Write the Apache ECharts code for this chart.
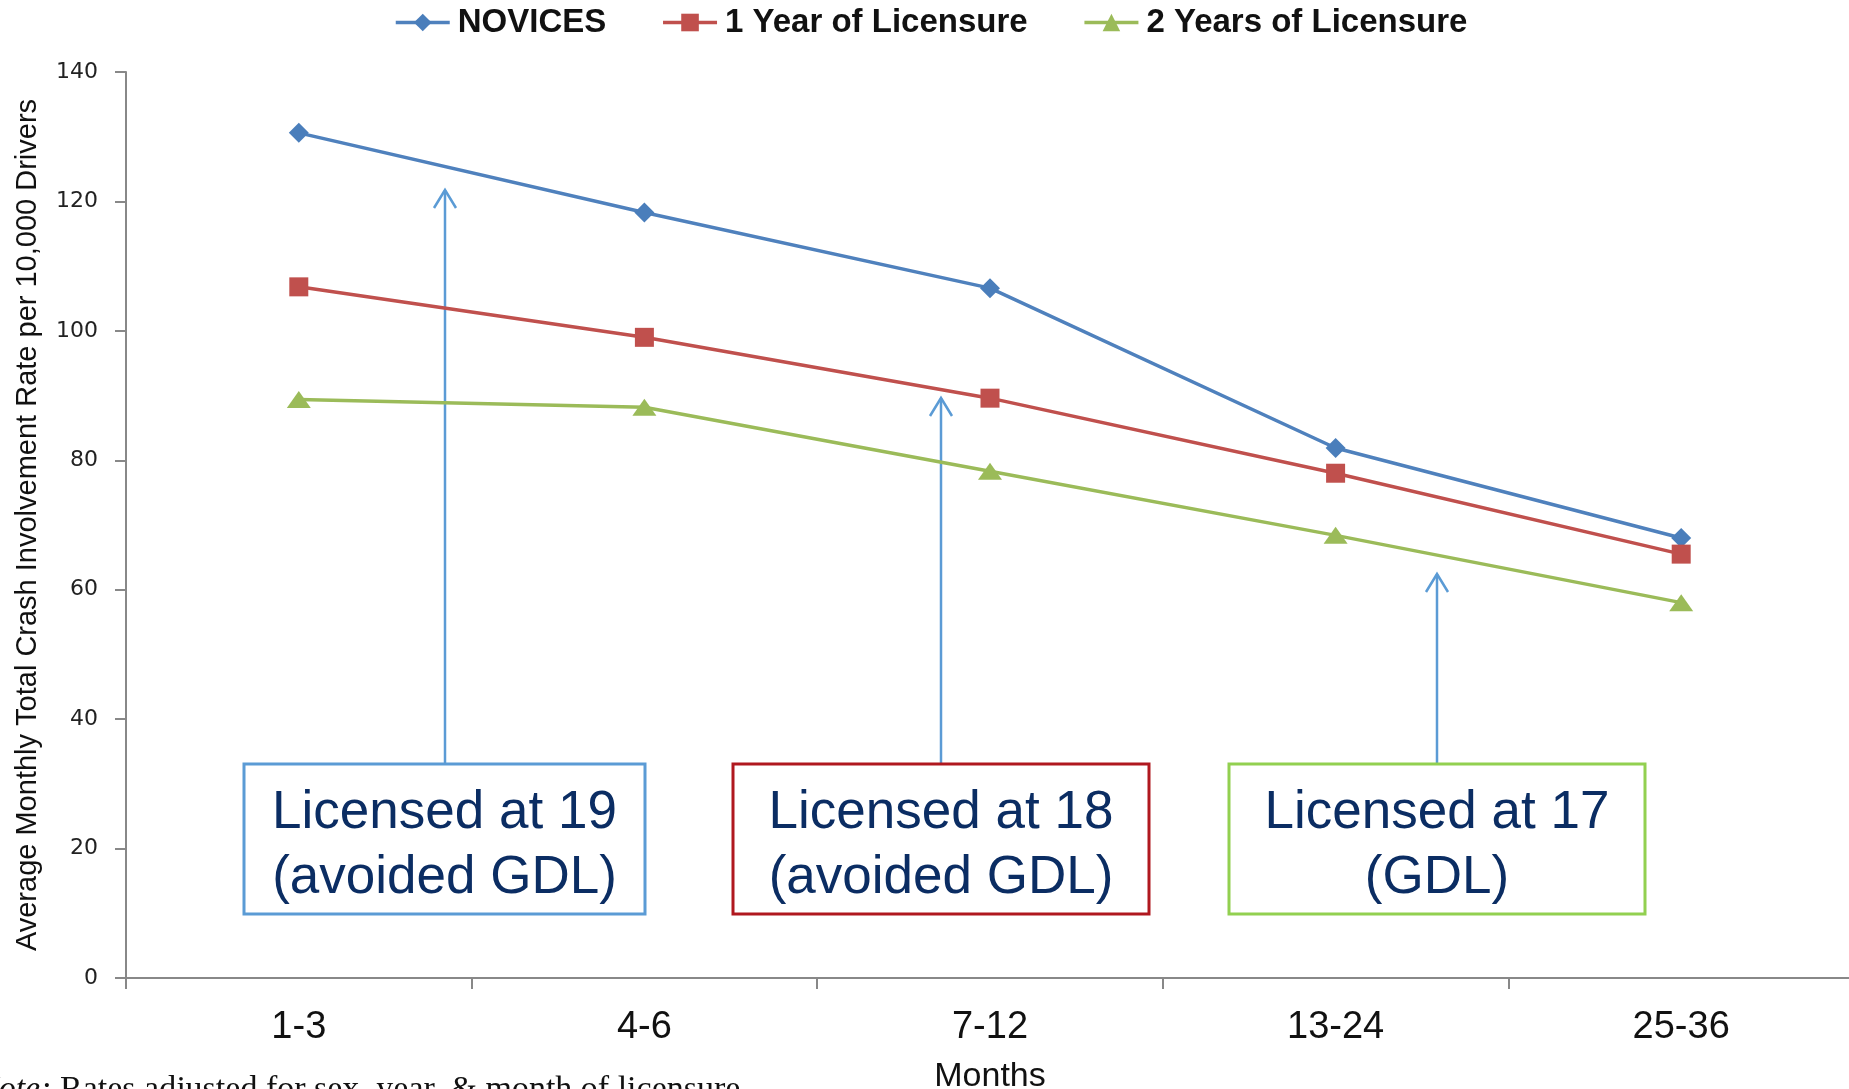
<!DOCTYPE html>
<html>
<head>
<meta charset="utf-8">
<script src="https://cdn.jsdelivr.net/npm/echarts@6/dist/echarts.min.js"></script>
<style>
html,body{margin:0;padding:0;background:#fff;}
#chart{width:1849px;height:1089px;}
</style>
</head>
<body>
<div id="chart"></div>
<script>
var categories = ['1-3', '4-6', '7-12', '13-24', '25-36'];
var novices = [130.6, 118.3, 106.6, 81.9, 68.0];
var oneYear = [106.8, 99.0, 89.6, 78.0, 65.5];
var twoYears = [89.4, 88.2, 78.3, 68.4, 58.0];
var yTicks = [0, 20, 40, 60, 80, 100, 120, 140];
var seriesNames = ['NOVICES', '1 Year of Licensure', '2 Years of Licensure'];
var boxTexts = ['Licensed at 19\n(avoided GDL)', 'Licensed at 18\n(avoided GDL)', 'Licensed at 17\n(GDL)'];

var chart = echarts.init(document.getElementById('chart'), null, {renderer: 'canvas'});

function arrow(x, yTop, yBottom) {
  return {
    type: 'group',
    children: [
      {type: 'line', shape: {x1: x, y1: yBottom, x2: x, y2: yTop}, style: {stroke: '#5b9bd5', lineWidth: 2.5}},
      {type: 'polyline', shape: {points: [[x - 11, yTop + 18], [x, yTop], [x + 11, yTop + 18]]}, style: {stroke: '#5b9bd5', lineWidth: 2.5, fill: null}}
    ]
  };
}
function box(x, w, color, text) {
  return {
    type: 'group',
    children: [
      {type: 'rect', shape: {x: x, y: 764, width: w, height: 150}, style: {stroke: color, lineWidth: 3, fill: '#fff'}},
      {type: 'text', x: x + w / 2, y: 846, style: {text: text, font: '53px "Liberation Sans", Arial, sans-serif', fill: '#0b2d63', align: 'center', verticalAlign: 'middle', lineHeight: 65}}
    ]
  };
}

var option = {
  animation: false,
  backgroundColor: '#fff',
  legend: {
    top: 1,
    left: 389,
    itemWidth: 54,
    itemHeight: 22,
    itemGap: 55,
    lineStyle: {width: 3.5},
    textStyle: {fontFamily: '"Liberation Sans", Arial, sans-serif', fontWeight: 'bold', fontSize: 33, color: '#111', padding: [0, 0, 0, 3]},
    data: seriesNames
  },
  grid: {left: 126, right: -5, top: 72, bottom: 111, outerBoundsMode: 'none'},
  xAxis: {
    type: 'category',
    data: categories,
    boundaryGap: true,
    name: 'Months',
    nameLocation: 'middle',
    nameGap: 82,
    nameTextStyle: {fontFamily: '"Liberation Sans", Arial, sans-serif', fontSize: 34, color: '#111'},
    axisLine: {lineStyle: {color: '#888', width: 2}},
    axisTick: {show: true, length: 11, lineStyle: {color: '#888', width: 2}},
    axisLabel: {fontFamily: '"Liberation Sans", Arial, sans-serif', fontSize: 38, color: '#111', margin: 31}
  },
  yAxis: {
    type: 'value',
    min: 0,
    max: 140,
    interval: 20,
    name: 'Average Monthly Total Crash Involvement Rate per 10,000 Drivers',
    nameLocation: 'middle',
    nameGap: 84,
    nameTextStyle: {fontFamily: '"Liberation Sans", Arial, sans-serif', fontSize: 29, color: '#111'},
    splitLine: {show: false},
    axisLine: {show: true, lineStyle: {color: '#888', width: 2}},
    axisTick: {show: true, length: 11, lineStyle: {color: '#888', width: 2}},
    axisLabel: {fontFamily: '"DejaVu Sans", Verdana, sans-serif', fontSize: 22, color: '#222', margin: 28,
      formatter: function (v) { return yTicks.indexOf(v) >= 0 ? String(v) : ''; }}
  },
  series: [
    {name: seriesNames[0], type: 'line', data: novices, symbol: 'diamond', symbolSize: 20,
      lineStyle: {color: '#4f81bd', width: 3.5}, itemStyle: {color: '#4a7ebb'}},
    {name: seriesNames[1], type: 'line', data: oneYear, symbol: 'rect', symbolSize: 19,
      lineStyle: {color: '#c0504d', width: 3.5}, itemStyle: {color: '#c0504d'}},
    {name: seriesNames[2], type: 'line', data: twoYears, symbol: 'triangle', symbolSize: [24, 17],
      lineStyle: {color: '#9bbb59', width: 3.5}, itemStyle: {color: '#9bbb59'}}
  ],
  graphic: [
    arrow(445, 190, 764),
    arrow(941, 398, 764),
    arrow(1437, 574, 764),
    box(244, 401, '#5b9bd5', boxTexts[0]),
    box(733, 416, '#b0181f', boxTexts[1]),
    box(1229, 416, '#92d050', boxTexts[2]),
    {type: 'text', x: -24, y: 1073, style: {text: '{i|Note:} Rates adjusted for sex, year, & month of licensure',
      font: '34px "Liberation Serif", "Times New Roman", serif', fill: '#111', verticalAlign: 'top',
      rich: {i: {fontStyle: 'italic', fontFamily: '"Liberation Serif", serif', fontSize: 34, fill: '#111'}}}}
  ]
};
chart.setOption(option);
</script>
</body>
</html>
